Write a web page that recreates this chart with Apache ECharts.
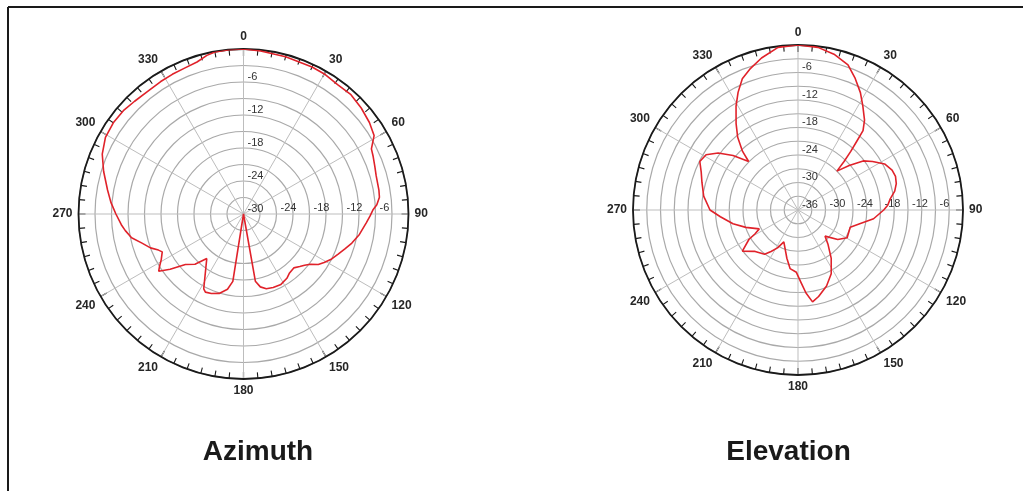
<!DOCTYPE html>
<html>
<head>
<meta charset="utf-8">
<script src="https://cdn.jsdelivr.net/npm/echarts@6/dist/echarts.min.js"></script>
<style>
html,body{margin:0;padding:0;background:#ffffff;}
#c{width:1023px;height:491px;}
</style>
</head>
<body>
<div id="c"></div>
<script>
// ---------- data ----------
const angleLabels = [0, 30, 60, 90, 120, 150, 180, 210, 240, 270, 300, 330];

const azRadialTop   = [-30, -24, -18, -12, -6];
const azRadialRight = [-24, -18, -12, -6];
const elRadialTop   = [-36, -30, -24, -18, -12, -6];
const elRadialRight = [-30, -24, -18, -12, -6];

const azAngles = [
  0, 6, 15, 25, 30, 36, 42, 48, 54, 59,
  63, 66, 70, 74, 80, 83, 86, 88, 91, 94,
  100, 105, 109, 113, 117, 121, 124, 127, 130, 133,
  137, 142, 146, 152, 158, 163, 167, 170, 180, 189,
  192, 197, 202, 206, 208, 219.5, 224, 229, 233, 236,
  238, 241, 245, 247, 250, 254, 258, 262, 265, 270,
  275, 280, 287, 293, 299, 305, 311, 316, 322, 328,
  333, 338, 343, 347, 350, 355, 360
];
const azGain = [
  0, -0.2, -0.4, -0.5, -0.6, -0.9, -0.8, -1.2, -1.7, -2.3,
  -3.9, -4.2, -4.6, -4.9, -5.0, -5.1, -5.7, -6.4, -7.0, -7.6,
  -8.6, -9.6, -10.5, -11.3, -12.0, -12.9, -13.6, -14.8, -15.5, -16.0,
  -16.6, -16.4, -15.9, -15.5, -15.6, -15.8, -16.4, -17.6, -30, -17.6,
  -16.0, -14.9, -14.4, -14.2, -14.6, -19.5, -17.3, -16.0, -13.3, -11.4,
  -12.0, -12.9, -13.7, -13.2, -12.0, -10.8, -9.2, -8.3, -7.7, -6.8,
  -5.8, -4.9, -3.4, -2.1, -1.3, -1.1, -1.2, -1.5, -1.7, -1.6,
  -1.5, -1.4, -1.1, -0.4, -0.1, 0, 0
];

const elAngles = [
  0, 7, 13, 19, 23.5, 28, 32, 36.5, 39.3, 40.5,
  42, 43.5, 45, 49, 53, 57, 62, 67, 71, 75,
  79, 83, 87, 90, 96.6, 102.6, 108.3, 119.4, 126.6, 134,
  139, 145.5, 152.5, 159.4, 166.6, 171, 174.5, 177.5, 181.5, 187.7,
  193, 204, 208.4, 213, 217, 226, 233.5, 239, 241, 244,
  251.6, 258, 265, 270, 278.4, 286, 291.5, 296.3, 301, 305.5,
  310, 314.5, 316.6, 320.3, 324.4, 329.2, 333, 337, 341.5, 346.5,
  353, 360
];
const elGain = [
  0, -0.25, -1.1, -2.5, -4.7, -7.0, -9.3, -11.6, -13.6, -16.2,
  -18.8, -21.4, -24.0, -21.2, -18.2, -16.6, -14.6, -13.7, -13.5, -13.8,
  -14.5, -15.7, -16.4, -17.3, -19.4, -22.2, -24.0, -23.7, -25.2, -27.8,
  -26.0, -23.2, -20.3, -18.3, -16.6, -15.7, -17.8, -20.1, -22.4, -23.1,
  -25.2, -28.4, -26.6, -25.2, -23.9, -23.0, -20.9, -23.5, -25.3, -26.6,
  -24.0, -21.5, -19.0, -16.8, -15.2, -14.2, -13.3, -12.1, -12.6, -14.6,
  -17.5, -20.9, -18.4, -15.4, -12.8, -9.6, -7.2, -4.9, -3.4, -1.9,
  -0.25, 0
];

const titles = ['Azimuth', 'Elevation'];

// ---------- chart ----------
const chart = echarts.init(document.getElementById('c'), null, {renderer: 'canvas'});

const AZ = {center: [243.5, 214], radius: 165};
const EL = {center: [798, 210], radius: 165};

const labelFont = '"Liberation Sans", Arial, sans-serif';

function mainAngle(idx) {
  return {
    polarIndex: idx, type: 'value', min: 0, max: 360, interval: 30,
    startAngle: 90, clockwise: true,
    axisLine: {lineStyle: {color: '#1a1a1a', width: 1.8}},
    axisTick: {show: true, inside: true, length: 7, lineStyle: {color: '#1a1a1a', width: 1.2}},
    minorTick: {show: true, splitNumber: 6, length: 6, lineStyle: {color: '#1a1a1a', width: 1.1}},
    axisLabel: {
      margin: 6, color: '#262626', fontSize: 12, fontWeight: 'bold', fontFamily: labelFont,
      formatter: v => angleLabels.includes(v) ? String(v) : ''
    },
    splitLine: {show: true, lineStyle: {color: '#bdbdbd', width: 1}},
    minorSplitLine: {show: false}
  };
}
function hiddenAngle(idx) {
  return {polarIndex: idx, type: 'value', min: 0, max: 360, startAngle: 0, clockwise: true, show: false};
}
function topRadius(idx, min, list) {
  return {
    polarIndex: idx, type: 'value', min: min, max: 0, interval: 3,
    axisLine: {show: false}, axisTick: {show: false},
    axisLabel: {
      show: true, margin: -4, align: 'left', verticalAlign: 'bottom',
      fontSize: 11, color: '#333', fontFamily: labelFont,
      formatter: v => list.includes(v) ? String(v) : ''
    },
    splitLine: {show: true, lineStyle: {color: '#a9a9a9', width: 1.2}}
  };
}
function rightRadius(idx, min, list) {
  return {
    polarIndex: idx, type: 'value', min: min, max: 0, interval: 3,
    axisLine: {show: false}, axisTick: {show: false},
    axisLabel: {
      show: true, margin: 1, align: 'left', verticalAlign: 'bottom', padding: [0, 0, 0, 4],
      fontSize: 11, color: '#333', fontFamily: labelFont,
      formatter: v => list.includes(v) ? String(v) : ''
    },
    splitLine: {show: false}
  };
}

const option = {
  animation: false,
  backgroundColor: '#ffffff',
  polar: [AZ, AZ, EL, EL],
  angleAxis: [mainAngle(0), hiddenAngle(1), mainAngle(2), hiddenAngle(3)],
  radiusAxis: [
    topRadius(0, -30, azRadialTop),
    rightRadius(1, -30, azRadialRight),
    topRadius(2, -36, elRadialTop),
    rightRadius(3, -36, elRadialRight)
  ],
  series: [
    {
      name: titles[0], type: 'line', coordinateSystem: 'polar', polarIndex: 0,
      data: azAngles.map((a, i) => [azGain[i], a]),
      symbol: 'none', smooth: false, silent: true,
      lineStyle: {color: '#e0222a', width: 1.6}, z: 5
    },
    {
      name: titles[1], type: 'line', coordinateSystem: 'polar', polarIndex: 2,
      data: elAngles.map((a, i) => [elGain[i], a]),
      symbol: 'none', smooth: false, silent: true,
      lineStyle: {color: '#e0222a', width: 1.6}, z: 5
    }
  ],
  graphic: [
    {type: 'line', silent: true, shape: {x1: 8, y1: 7, x2: 1023, y2: 7}, style: {stroke: '#1a1a1a', lineWidth: 2}},
    {type: 'line', silent: true, shape: {x1: 8, y1: 7, x2: 8, y2: 491}, style: {stroke: '#1a1a1a', lineWidth: 2}},
    {type: 'text', silent: true, x: 258, y: 452,
      style: {text: titles[0], fill: '#1a1a1a', font: 'bold 28px "Liberation Sans", Arial, sans-serif',
        align: 'center', verticalAlign: 'middle', textAlign: 'center', textVerticalAlign: 'middle'}},
    {type: 'text', silent: true, x: 788.5, y: 452,
      style: {text: titles[1], fill: '#1a1a1a', font: 'bold 28px "Liberation Sans", Arial, sans-serif',
        align: 'center', verticalAlign: 'middle', textAlign: 'center', textVerticalAlign: 'middle'}}
  ]
};
chart.setOption(option);
</script>
</body>
</html>
